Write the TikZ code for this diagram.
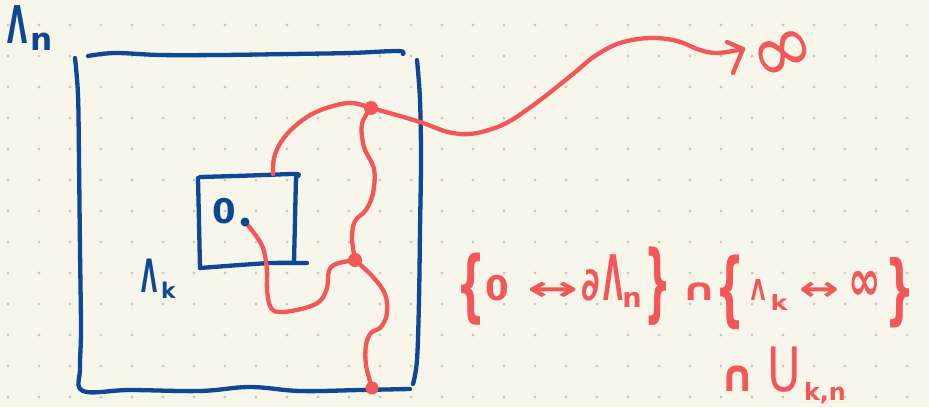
\documentclass[tikz,border=0pt]{standalone}
\usepackage{fontspec}
\newfontfamily\hand{DejaVu Sans}
\definecolor{paper}{HTML}{F8F6EB}
\definecolor{gridgray}{HTML}{C9C8C0}
\definecolor{penblue}{HTML}{0E4894}
\definecolor{penred}{HTML}{F45757}
% a glyph of zero width, centred on the current point
\newcommand\at[1]{\makebox[0pt][c]{#1}}
\tikzset{
  ink/.style={line width=4.3pt, line cap=round, line join=round},
  bluepen/.style={ink, draw=penblue},
  redpen/.style={ink, draw=penred},
  wiggle/.style={smooth, tension=0.6},
  lbl/.style={inner sep=0pt, outer sep=0pt, font=\hand\bfseries},
}
\begin{document}
\begin{tikzpicture}[x=1pt, y=-1pt]
  % paper and dot grid
  \fill[paper] (0,0) rectangle (929,407);
  \useasboundingbox (0,0) rectangle (929,407);
  \foreach \i in {0,...,29}
    \foreach \j in {0,...,12}
      \fill[gridgray] (8+31*\i, 25+31*\j) circle (1.7);

  % outer box Lambda_n
  \draw[bluepen] plot[wiggle] coordinates {(75,58) (78,95) (79,160) (80,250) (81,330) (80,368) (83,391)
      (130,390) (200,391) (250,387) (300,391) (360,390) (410,389)};
  \draw[bluepen] plot[wiggle] coordinates {(88,56) (115,53) (160,55) (220,55) (290,54) (350,53) (398,51) (403,54)};
  \draw[bluepen] plot[wiggle] coordinates {(417,60) (420,100) (421,160) (420,230) (419,300) (417,360) (413,384)};

  % inner box Lambda_k
  \draw[bluepen] plot[wiggle] coordinates {(198,178) (199,222) (200,268)};
  \draw[bluepen] plot[wiggle] coordinates {(200,177) (235,176) (265,175) (296,174) (298,176)};
  \draw[bluepen] plot[wiggle] coordinates {(296,177) (295,220) (294,262)};
  \draw[bluepen] plot[wiggle] coordinates {(200,268) (240,265) (272,263) (307,263)};

  % labels
  \node[lbl, text=penblue, anchor=base west] (lamn) at (7,43)
    {\fontsize{52}{52}\selectfont\scalebox{0.5}[1]{Λ}\hspace{3pt}\raisebox{-7pt}{\scalebox{0.6}{n}}};
  \node[lbl, text=penblue, anchor=base west] (lamk) at (141,292)
    {\fontsize{46}{46}\selectfont\scalebox{0.45}[1]{Λ}\hspace{4pt}\raisebox{-6pt}{\scalebox{0.47}{k}}};
  \node[lbl, text=penblue] (zero) at (224,211) {\fontsize{34}{34}\selectfont 0};

  % points of the cluster
  \coordinate (o)   at (245,222);
  \coordinate (s0)  at (273,174);
  \coordinate (j1)  at (371,108);
  \coordinate (j2)  at (355,260);
  \coordinate (j3)  at (372,388);
  \coordinate (tip) at (743,49);

  % red open paths
  \draw[redpen] plot[wiggle] coordinates {(s0) (274,158) (281,142) (294,127) (312,114) (333,106) (352,103) (371,108)};
  \draw[redpen] plot[wiggle] coordinates {(j1) (362,124) (364,147) (374,169) (373,193) (366,210) (355,221) (352,238) (j2)};
  \draw[redpen] plot[wiggle] coordinates {(j2) (373,277) (385,294) (387,313) (381,327) (371,333) (366,345) (366,365) (j3)};
  \draw[redpen] plot[wiggle] coordinates {(o) (254,233) (263,248) (267,270) (267,290) (271,308) (282,312) (305,308) (320,301) (327,288) (329,271) (336,264) (j2)};
  \draw[redpen] plot[wiggle] coordinates {(j1) (400,116) (423,123) (448,132) (470,134) (492,129) (510,121) (528,109) (548,94) (573,74) (595,56) (620,43) (650,38) (677,41) (700,50) (718,53) (tip)};
  \draw[redpen] (tip) ++(-16,-7) -- (tip) -- ++(-10,24);

  % junction points and the origin
  \fill[penred] (j1) circle (7);
  \fill[penred] (j2) circle (7);
  \fill[penred] (j3) circle (6.5);
  \fill[penblue] (o) circle (4.5);

  \node[lbl, text=penred, rotate=25] (inf) at (785,57)
    {\fontsize{31}{31}\mdseries\selectfont\scalebox{2.5}[2.8]{∞}};

  % event formula, glyphs set on their own centres
  \node[lbl, text=penred, anchor=base west] (ev) at (458,300)
    {\fontsize{34}{34}\selectfont
     \hspace{13pt}\at{\raisebox{-12.6pt}{\scalebox{1.2}[2.3]{\{}}}%
     \hspace{26pt}\at{0}%
     \hspace{56pt}\at{\scalebox{1.8}[1]{↔}}%
     \hspace{38pt}\at{\scalebox{1}[1.35]{∂}}%
     \hspace{22pt}\at{\scalebox{0.75}[1.85]{Λ}}%
     \hspace{19pt}\at{\raisebox{-7pt}{\scalebox{0.8}{n}}}%
     \hspace{26pt}\at{\raisebox{-11.8pt}{\scalebox{1.1}[2.5]{\}}}}%
     \hspace{41pt}\at{\scalebox{1.3}[0.9]{∩}}%
     \hspace{31pt}\at{\raisebox{-16.5pt}{\scalebox{1.2}[2.38]{\{}}}%
     \hspace{28pt}\at{\scalebox{0.55}[0.85]{Λ}}%
     \hspace{21pt}\at{\raisebox{-10pt}{\scalebox{0.75}[0.62]{k}}}%
     \hspace{40pt}\at{\scalebox{1.4}[1]{↔}}%
     \hspace{46pt}\at{\scalebox{1.15}[1.7]{∞}}%
     \hspace{35pt}\at{\raisebox{-15pt}{\scalebox{1.2}[2.25]{\}}}}%
     \hspace{13pt}};
  \node[lbl, text=penred, anchor=base west] (ukn) at (727,391)
    {\fontsize{34}{34}\selectfont
     \hspace{11pt}\at{\scalebox{1.25}[1.3]{∩}}%
     \hspace{46pt}\at{\mdseries\scalebox{1.35}[1.8]{U}}%
     \hspace{20pt}\raisebox{-9pt}{\scalebox{0.7}{k,n}}};
\end{tikzpicture}
\end{document}
